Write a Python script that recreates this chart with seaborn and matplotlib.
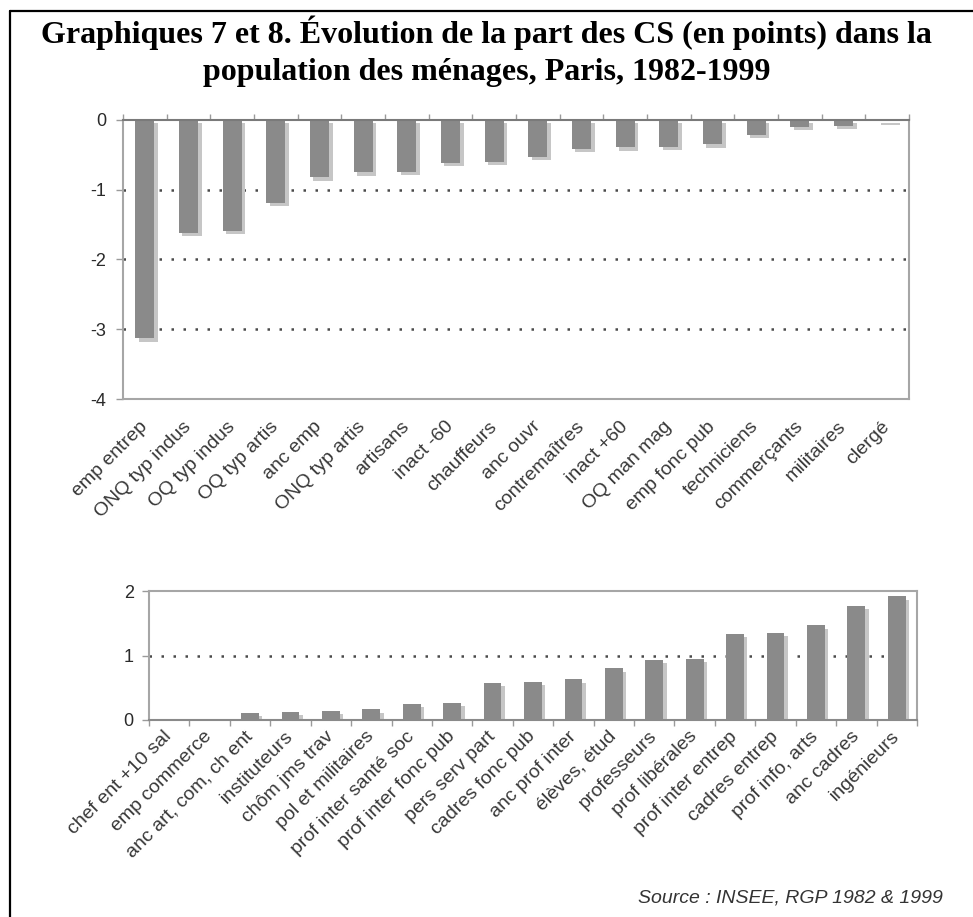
import numpy as np
import pandas as pd
import seaborn as sns
import matplotlib.pyplot as plt
import matplotlib.patheffects as pe
from matplotlib.lines import Line2D

# Graphique 7 : CS en baisse (points)
baisse_cs = ["emp entrep", "ONQ typ indus", "OQ typ indus", "OQ typ artis", "anc emp",
             "ONQ typ artis", "artisans", "inact -60", "chauffeurs", "anc ouvr",
             "contremaîtres", "inact +60", "OQ man mag", "emp fonc pub", "techniciens",
             "commerçants", "militaires", "clergé"]
baisse_pts = [-3.13, -1.62, -1.59, -1.19, -0.82, -0.75, -0.74, -0.61, -0.60, -0.53,
              -0.41, -0.39, -0.38, -0.35, -0.21, -0.10, -0.08, -0.02]

# Graphique 8 : CS en hausse (points)
hausse_cs = ["chef ent +10 sal", "emp commerce", "anc art, com, ch ent", "instituteurs",
             "chôm jms trav", "pol et militaires", "prof inter santé soc", "prof inter fonc pub",
             "pers serv part", "cadres fonc pub", "anc prof inter", "élèves, étud",
             "professeurs", "prof libérales", "prof inter entrep", "cadres entrep",
             "prof info, arts", "anc cadres", "ingénieurs"]
hausse_pts = [0.02, 0.02, 0.11, 0.13, 0.14, 0.17, 0.25, 0.27, 0.58, 0.59, 0.63, 0.80,
              0.93, 0.95, 1.34, 1.35, 1.47, 1.77, 1.92]

titre_1 = "Graphiques 7 et 8. Évolution de la part des CS (en points) dans la"
titre_2 = "population des ménages, Paris, 1982-1999"
source = "Source : INSEE, RGP 1982 & 1999"

sns.set_theme(style="white")
plt.rcParams['font.family'] = ['Liberation Sans', 'DejaVu Sans']
plt.rcParams['axes.unicode_minus'] = False

W, H = 973, 917
fig = plt.figure(figsize=(W / 100, H / 100), dpi=100)
fig.patch.set_facecolor('white')

ax1 = fig.add_axes([123 / W, 1 - 399 / H, (909 - 123) / W, (399 - 120) / H])
ax2 = fig.add_axes([149 / W, 1 - 720 / H, (917 - 149) / W, (720 - 591) / H])

ombre = [pe.SimplePatchShadow(offset=(2.5, -2.5), shadow_rgbFace='#c6c6c6', alpha=1), pe.Normal()]


def trace(ax, cs, pts, ylim, yticks, grille, pad_x, pad_y, ticks_haut):
    df = pd.DataFrame({'cs': cs, 'pts': pts})
    sns.barplot(data=df, x='cs', y='pts', order=cs, color='#8a8a8a', saturation=1,
                width=0.44, linewidth=0, ax=ax)
    for p in ax.patches:
        p.set_path_effects(ombre)
        p.set_zorder(2)

    for g in grille:
        ax.axhline(g, color='#4a4a4a', lw=1.8, ls=(0, (1, 3.8)), zorder=1)

    ax.set_xlim(-0.5, len(cs) - 0.5)
    ax.set_ylim(*ylim)
    ax.set_yticks(yticks)
    ax.set_xlabel('')
    ax.set_ylabel('')

    for s in ax.spines.values():
        s.set_color('#a6a6a6')
        s.set_linewidth(1.5)
    if ticks_haut:
        ax.spines['top'].set_color('#7a7a7a')
    else:
        ax.spines['bottom'].set_color('#8a8a8a')

    ax.set_xticks(np.arange(-0.5, len(cs)), minor=True)
    ax.tick_params(axis='x', which='major', length=0, pad=pad_x, labelsize=14,
                   labelcolor='#383838')
    ax.tick_params(axis='x', which='minor', length=4, width=1, color='#9a9a9a',
                   top=ticks_haut, bottom=not ticks_haut)
    ax.tick_params(axis='y', left=True, length=5, width=1, color='#9a9a9a', pad=pad_y,
                   labelsize=13, labelcolor='#2a2a2a')
    for lab in ax.get_xticklabels():
        lab.set_rotation(45)
        lab.set_ha('right')
        lab.set_va('center')
        lab.set_rotation_mode('anchor')


trace(ax1, baisse_cs, baisse_pts, (-4, 0), [0, -1, -2, -3, -4], [-1, -2, -3], 18, 7, True)
trace(ax2, hausse_cs, hausse_pts, (0, 2), [0, 1, 2], [1], 10, 6, False)

fig.text(0.5, 1 - 43 / H, titre_1, ha='center', va='baseline', fontsize=23,
         fontweight='bold', family='Liberation Serif', color='black')
fig.text(0.5, 1 - 80 / H, titre_2, ha='center', va='baseline', fontsize=23,
         fontweight='bold', family='Liberation Serif', color='black')
fig.text(943 / W, 1 - 898 / H, source, ha='right', va='center', fontsize=14,
         style='italic', color='#333333')

# cadre
fig.add_artist(Line2D([10 / W, 10 / W], [0, 1 - 11 / H], transform=fig.transFigure,
                      color='black', lw=1.6))
fig.add_artist(Line2D([10 / W, 1], [1 - 11 / H, 1 - 11 / H], transform=fig.transFigure,
                      color='black', lw=1.6))

fig.savefig('out.png', dpi=100)
